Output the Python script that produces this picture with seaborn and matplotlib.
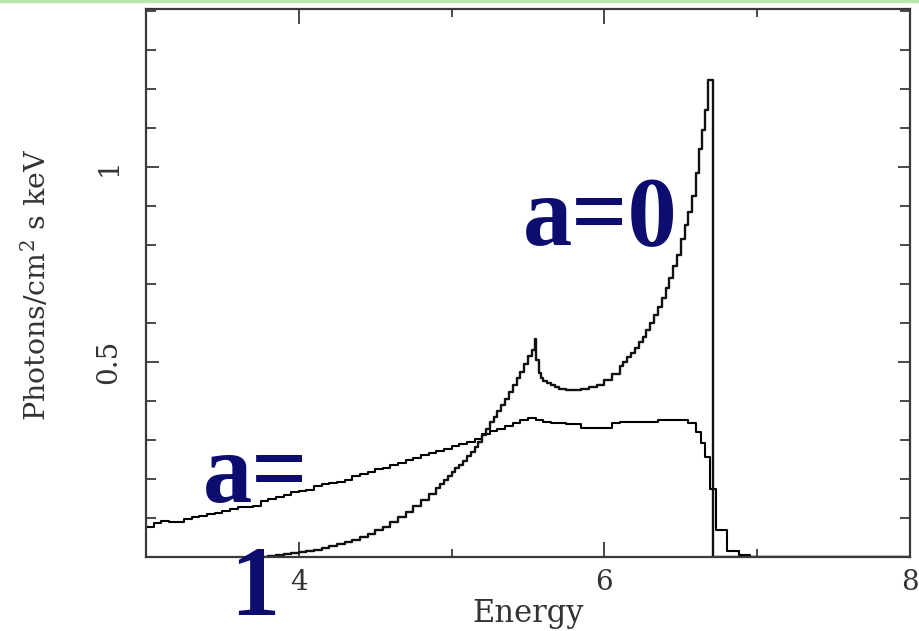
import numpy as np
import pandas as pd
import matplotlib
matplotlib.use("Agg")
import matplotlib.pyplot as plt
import seaborn as sns
from matplotlib.ticker import FixedLocator, FixedFormatter
from matplotlib.lines import Line2D

# ---- data (bin left edges in keV, step values) ----
energy_a1 = [3.00, 3.05, 3.10, 3.15, 3.20, 3.25, 3.30, 3.35, 3.40, 3.45,
             3.50, 3.55, 3.60, 3.65, 3.70, 3.75, 3.80, 3.85, 3.90, 3.95,
             4.00, 4.05, 4.10, 4.15, 4.20, 4.25, 4.30, 4.35, 4.40, 4.45,
             4.50, 4.55, 4.60, 4.65, 4.70, 4.75, 4.80, 4.85, 4.90, 4.95,
             5.00, 5.05, 5.10, 5.15, 5.20, 5.25, 5.30, 5.35, 5.40, 5.45,
             5.50, 5.55, 5.60, 5.65, 5.70, 5.75, 5.80, 5.85, 5.90, 5.95,
             6.00, 6.05, 6.10, 6.15, 6.20, 6.25, 6.30, 6.35, 6.40, 6.45,
             6.50, 6.55, 6.60, 6.63, 6.66, 6.69, 6.73, 6.80, 6.88, 6.95,
             8.00]
flux_a1 = [0.076, 0.087, 0.092, 0.091, 0.090, 0.098, 0.102, 0.105, 0.110, 0.114,
           0.118, 0.122, 0.127, 0.129, 0.131, 0.144, 0.148, 0.153, 0.158, 0.166,
           0.169, 0.173, 0.182, 0.186, 0.191, 0.193, 0.197, 0.207, 0.214, 0.219,
           0.225, 0.229, 0.236, 0.241, 0.248, 0.254, 0.261, 0.266, 0.272, 0.277,
           0.284, 0.289, 0.295, 0.302, 0.316, 0.322, 0.329, 0.336, 0.344, 0.352,
           0.357, 0.352, 0.346, 0.344, 0.343, 0.342, 0.341, 0.331, 0.331, 0.331,
           0.332, 0.343, 0.345, 0.346, 0.346, 0.346, 0.347, 0.351, 0.352, 0.351,
           0.352, 0.343, 0.320, 0.292, 0.256, 0.174, 0.070, 0.015, 0.004, 0.000,
           0.000]

energy_a0 = [3.75, 3.80, 3.85, 3.90, 3.95, 4.00, 4.05, 4.10, 4.15, 4.20,
             4.25, 4.30, 4.35, 4.40, 4.45, 4.50, 4.55, 4.60, 4.65, 4.70,
             4.75, 4.80, 4.85,
             4.900, 4.925, 4.950, 4.975, 5.000, 5.025, 5.050, 5.075, 5.100, 5.125,
             5.150, 5.175, 5.200, 5.225, 5.250, 5.275, 5.300, 5.325, 5.350, 5.375,
             5.400, 5.425, 5.450, 5.475, 5.500, 5.525, 5.545, 5.555, 5.570, 5.585,
             5.600, 5.625, 5.650, 5.675, 5.700, 5.750, 5.800, 5.850, 5.900, 5.950,
             6.000, 6.050, 6.100, 6.125, 6.150, 6.175, 6.200, 6.225, 6.250, 6.275,
             6.300, 6.325, 6.350, 6.375, 6.400, 6.425, 6.450, 6.475, 6.500, 6.525,
             6.550, 6.575, 6.600, 6.620, 6.640, 6.660, 6.680, 6.710, 8.000]
flux_a0 = [0.000, 0.003, 0.006, 0.008, 0.010, 0.012, 0.015, 0.018, 0.022, 0.027,
           0.033, 0.038, 0.044, 0.050, 0.058, 0.068, 0.078, 0.090, 0.102, 0.115,
           0.130, 0.145, 0.162,
           0.178, 0.188, 0.197, 0.207, 0.217, 0.227, 0.237, 0.247, 0.258, 0.270,
           0.282, 0.296, 0.312, 0.328, 0.345, 0.360, 0.375, 0.390, 0.405, 0.422,
           0.440, 0.458, 0.475, 0.495, 0.515, 0.530, 0.558, 0.505, 0.472, 0.460,
           0.452, 0.445, 0.440, 0.436, 0.432, 0.427, 0.427, 0.431, 0.436, 0.442,
           0.454, 0.468, 0.490, 0.500, 0.512, 0.523, 0.535, 0.550, 0.565, 0.582,
           0.600, 0.620, 0.640, 0.664, 0.690, 0.716, 0.745, 0.775, 0.815, 0.850,
           0.885, 0.925, 0.985, 1.045, 1.095, 1.145, 1.223, 0.000, 0.000]

x_major_ticks = [4, 6, 8]
x_minor_ticks = [5, 7]
x_tick_labels = ["4", "6", "8"]
y_major_ticks = [0.5, 1.0]
y_minor_ticks = [0.1, 0.2, 0.3, 0.4, 0.6, 0.7, 0.8, 0.9, 1.1, 1.2, 1.3, 1.4]
y_tick_labels = ["0.5", "1"]
x_label = "Energy"
y_label = "Photons/cm$^{2}$ s keV"
label_a0 = "a=0"
label_a1_top = "a="
label_a1_bottom = "1"

# ---- style ----
sns.set_theme(style="ticks")
plt.rcParams["font.family"] = ["DejaVu Serif"]
plt.rcParams["mathtext.fontset"] = "dejavuserif"

W, H = 920, 631
fig = plt.figure(figsize=(W / 100, H / 100), dpi=100)
ax = fig.add_axes([146 / W, 1 - 557 / H, (910 - 146) / W, (557 - 9) / H])

df1 = pd.DataFrame({"Energy": energy_a1, "Flux": flux_a1})
df0 = pd.DataFrame({"Energy": energy_a0, "Flux": flux_a0})
sns.lineplot(data=df1, x="Energy", y="Flux", drawstyle="steps-post",
             color="black", lw=1.5, ax=ax, estimator=None)
sns.lineplot(data=df0, x="Energy", y="Flux", drawstyle="steps-post",
             color="#111111", lw=1.7, ax=ax, estimator=None)

ax.set_xlim(3, 8)
ax.set_ylim(0, 1.405)

ax.xaxis.set_major_locator(FixedLocator(x_major_ticks))
ax.xaxis.set_major_formatter(FixedFormatter(x_tick_labels))
ax.xaxis.set_minor_locator(FixedLocator(x_minor_ticks))
ax.yaxis.set_major_locator(FixedLocator(y_major_ticks))
ax.yaxis.set_major_formatter(FixedFormatter(y_tick_labels))
ax.yaxis.set_minor_locator(FixedLocator(y_minor_ticks))

spine_c = "#3a3a3a"
for s in ax.spines.values():
    s.set_visible(True)
    s.set_color(spine_c)
    s.set_linewidth(1.6)

ax.tick_params(which="both", direction="in", top=True, right=True,
               color=spine_c, width=1.3, labelcolor="#333333")
ax.tick_params(axis="x", which="major", length=11, labelsize=20, pad=9)
ax.tick_params(axis="x", which="minor", length=6)
ax.tick_params(axis="y", which="major", length=9, labelsize=20, pad=17)
ax.tick_params(axis="y", which="minor", length=7)
for lab in ax.get_yticklabels():
    lab.set_rotation(90)
    lab.set_va("center")

ax.set_xlabel(x_label, fontsize=22, color="#333333")
ax.set_ylabel(y_label, fontsize=20.5, color="#333333")
ax.xaxis.set_label_coords(0.5, (557 - 598) / 548)
ax.yaxis.set_label_coords((52 - 146) / 764, 0.497)

# light green slide rule at the very top
fig.add_artist(Line2D([0, 1], [1 - 1.2 / H, 1 - 1.2 / H], transform=fig.transFigure,
                      color="#b8e6ad", lw=2.5))

navy = "#0d0d70"
big_font = dict(family=["Liberation Serif", "DejaVu Serif"], weight="bold",
                color=navy, fontsize=71)
fig.text(523 / W, 1 - 245 / H, label_a0, ha="left", va="baseline", **big_font)
fig.text(203 / W, 1 - 502 / H, label_a1_top, ha="left", va="baseline", **big_font)
fig.text(255 / W, 1 - 615 / H, label_a1_bottom, ha="center", va="baseline", **big_font)

fig.savefig("out.png", dpi=100)
